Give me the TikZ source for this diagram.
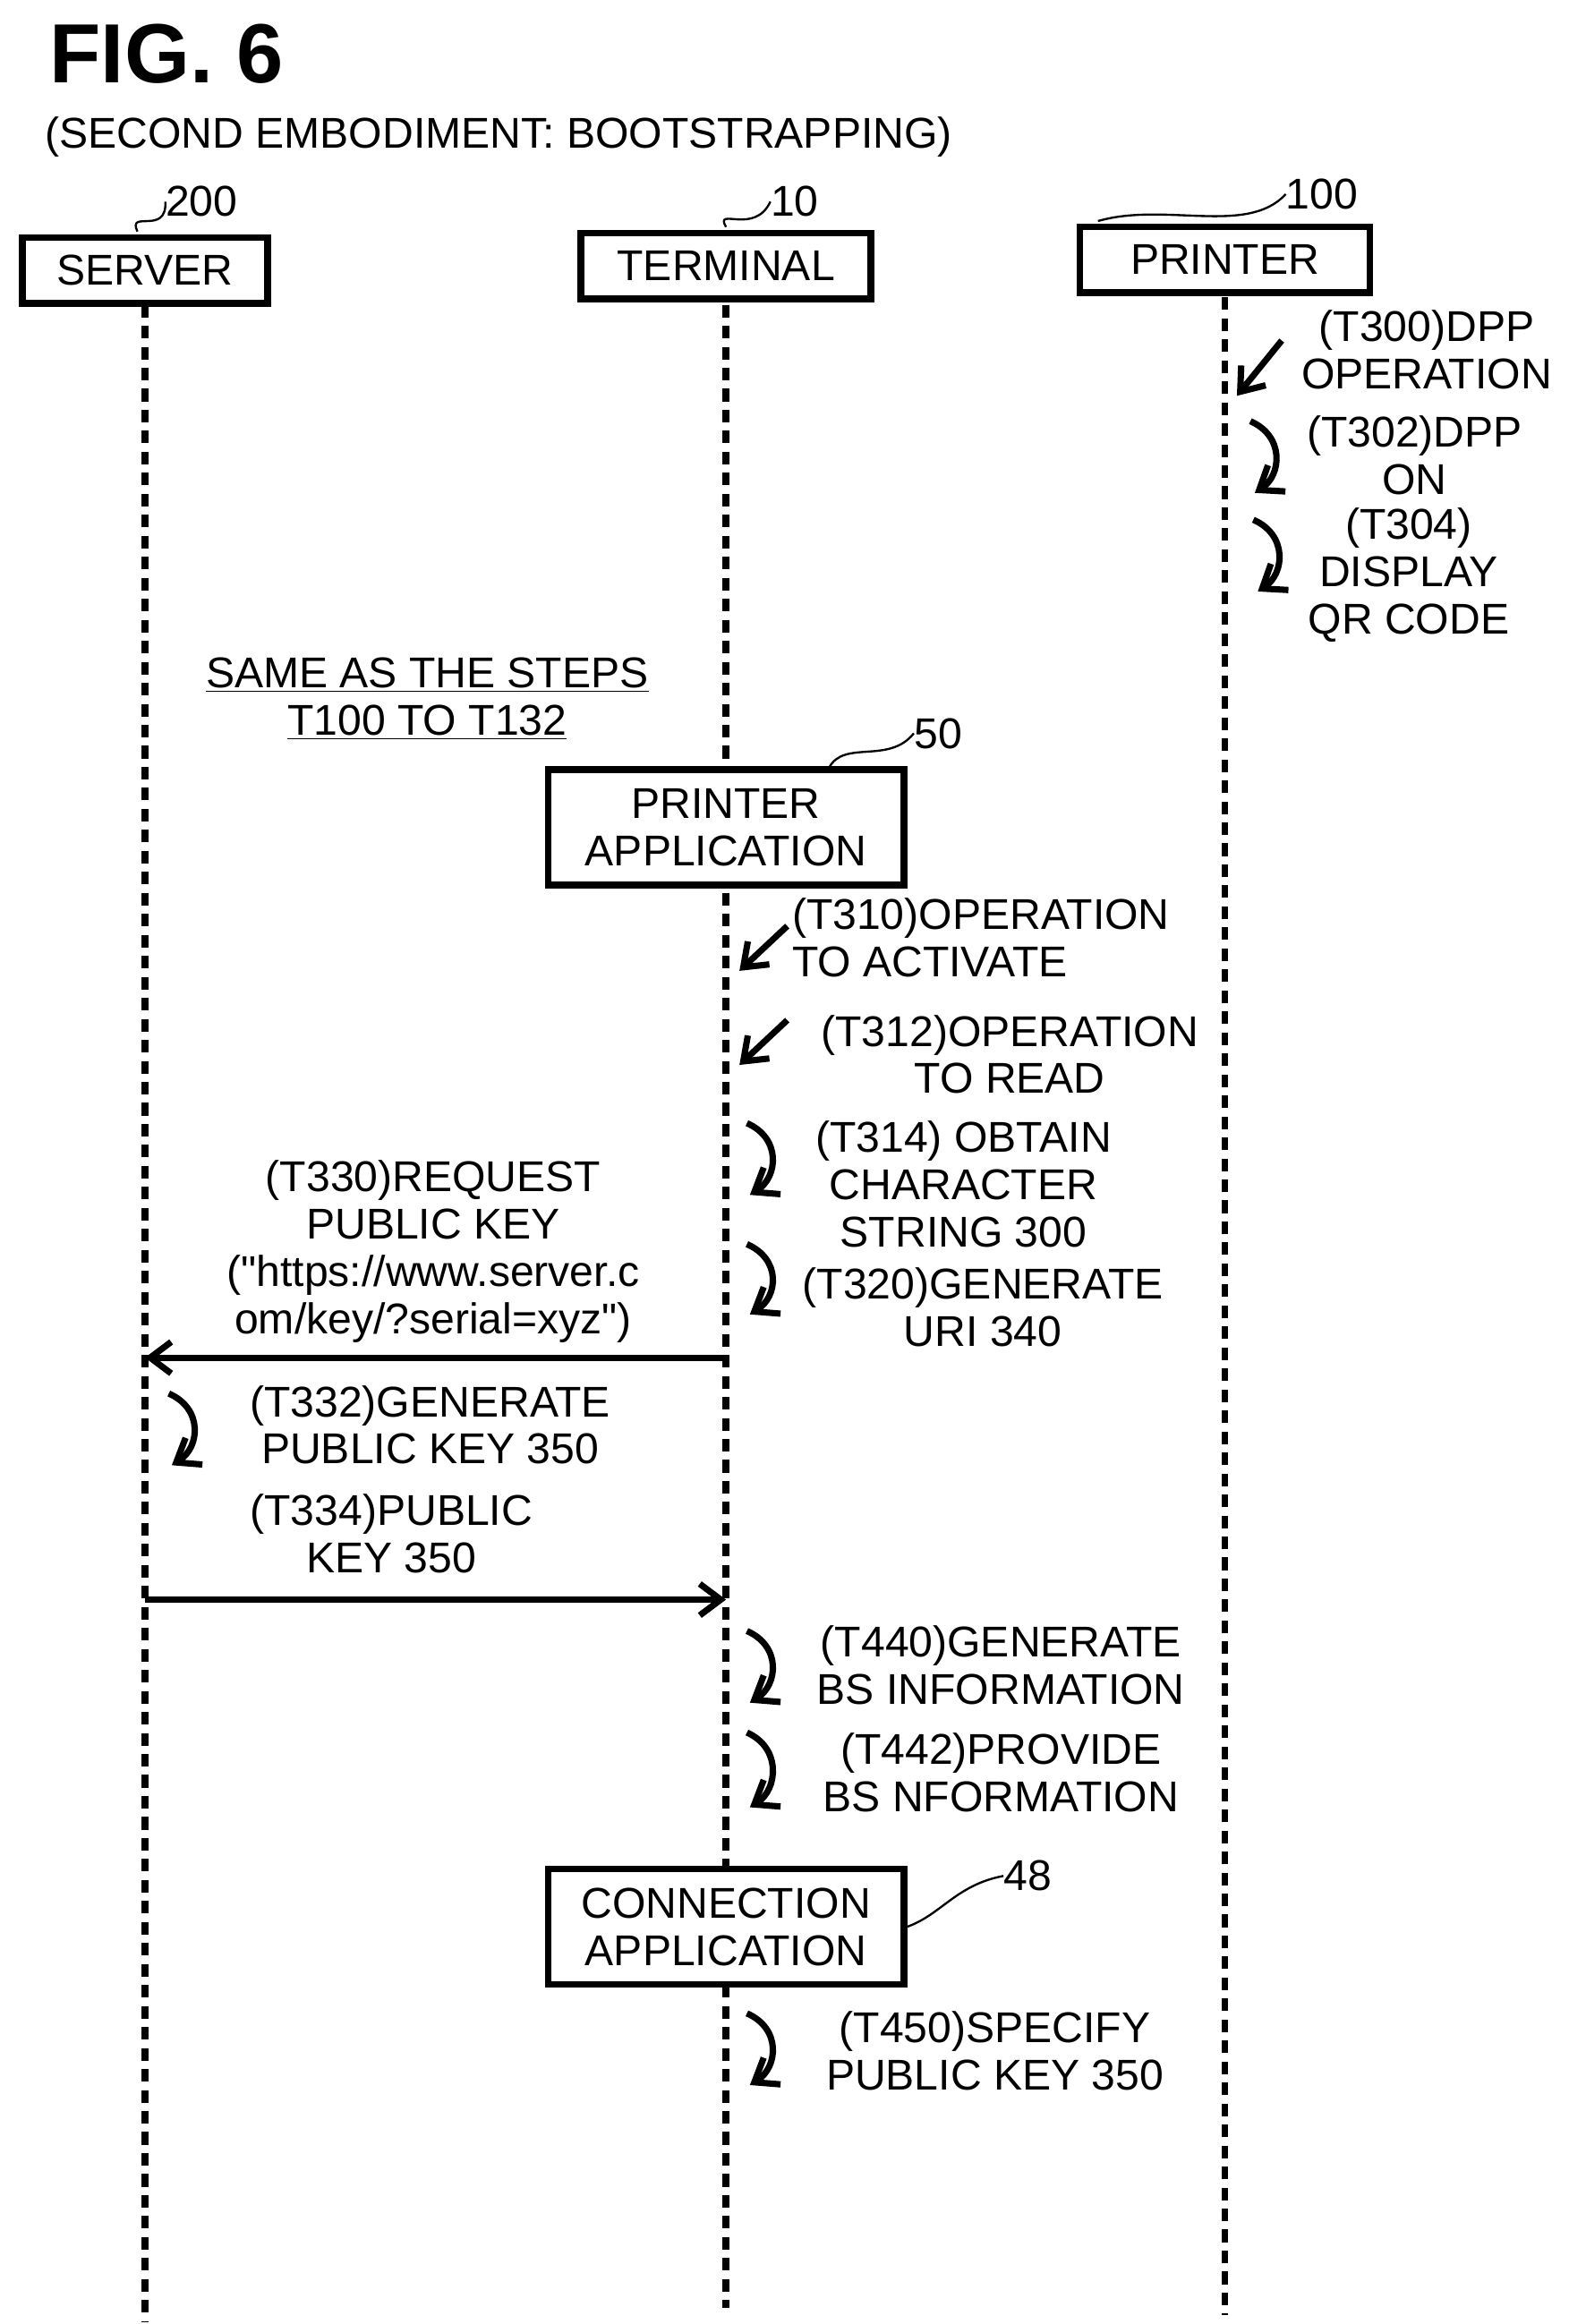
\documentclass[tikz,border=0pt]{standalone}
\usepackage{fontspec}
\setmainfont{Liberation Sans}
\usetikzlibrary{arrows.meta}
\tikzset{
  box/.style={draw, fill=white, line width=3.2pt, minimum height=1.1cm, inner sep=2pt, align=center, font=\fontsize{20.5}{22.5}\selectfont},
  life/.style={line width=3.2pt, dash pattern=on 6pt off 4pt},
  lbl/.style={align=center, font=\fontsize{20.5}{22.5}\selectfont, inner sep=0pt},
  msg/.style={line width=3pt, -{Straight Barb[length=10pt,width=15pt,line width=3pt]}},
  lead/.style={line width=1pt},
}
\begin{document}
\begin{tikzpicture}[x=0.025cm,y=-0.025cm]
  \useasboundingbox (0,0) rectangle (1050,1556);
  % title
  \node[anchor=west, inner sep=0pt, font=\fontsize{40}{44}\bfseries] (fig) at (33,36) {FIG. 6};
  \node[anchor=west, lbl] (sub) at (30,92) {(SECOND EMBODIMENT: BOOTSTRAPPING)};
  % lifelines
  \coordinate (sTop) at (97,190); \coordinate (sEnd) at (97,1555);
  \coordinate (tTop) at (486,190); \coordinate (tEnd) at (486,1545);
  \coordinate (pTop) at (820,185); \coordinate (pEnd) at (820,1550);
  \draw[life] (sTop) -- (sEnd);
  \draw[life] (tTop) -- (tEnd);
  \draw[life] (pTop) -- (pEnd);
  % participants
  \node[box, minimum width=4.1cm] (server) at (97,181) {SERVER};
  \node[box, minimum width=4.85cm] (term) at (486,178) {TERMINAL};
  \node[box, minimum width=4.85cm] (prn) at (820,174) {PRINTER};
  \node[lbl] (n200) at (135,135) {200};
  \node[lbl] (n10) at (532,135) {10};
  \node[lbl] (n100) at (885,130) {100};
  \draw[lead] (92,155) .. controls (85,140) and (112,158) .. (n200.west);
  \draw[lead] (486,152) .. controls (478,138) and (505,158) .. (n10.west);
  \draw[lead] (735,148) .. controls (780,135) and (835,158) .. (n100.west);
  % printer steps
  \node[lbl] (t300) at (955,234) {(T300)DPP\\OPERATION};
  \node[lbl] (t302) at (947,305) {(T302)DPP\\ON};
  \node[lbl] (t304) at (943,385) {(T304)\\DISPLAY\\QR CODE};
  \coordinate (a300s) at (858,228); \coordinate (a300e) at (828,265);
  \draw[msg] (a300s) -- (a300e);
  \coordinate (a302s) at (837,282); \coordinate (a302e) at (840,330);
  \draw[msg] (a302s) .. controls (860,292) and (858,318) .. (a302e);
  \coordinate (a304s) at (839,348); \coordinate (a304e) at (842,396);
  \draw[msg] (a304s) .. controls (862,358) and (860,384) .. (a304e);
  % same as
  \node[lbl] (same) at (286,468) {\underline{SAME AS THE STEPS}\\\underline{T100 TO T132}};
  % printer application
  \node[box, minimum width=5.95cm, minimum height=1.93cm] (papp) at (486,554) {PRINTER\\APPLICATION};
  \node[lbl] (n50) at (628,491) {50};
  \draw[lead] (555,514) .. controls (565,495) and (595,512) .. (n50.west);
  \node[lbl, anchor=west, align=left] (t310) at (530,628) {(T310)OPERATION\\TO ACTIVATE};
  \coordinate (a310s) at (527,620); \coordinate (a310e) at (495,650);
  \draw[msg] (a310s) -- (a310e);
  \node[lbl] (t312) at (676,706) {(T312)OPERATION\\TO READ};
  \coordinate (a312s) at (527,683); \coordinate (a312e) at (495,713);
  \draw[msg] (a312s) -- (a312e);
  \node[lbl] (t314) at (645,793) {(T314) OBTAIN\\CHARACTER\\STRING 300};
  \coordinate (a314s) at (500,752); \coordinate (a314e) at (502,800);
  \draw[msg] (a314s) .. controls (523,762) and (521,788) .. (a314e);
  \node[lbl] (t320) at (658,875) {(T320)GENERATE\\URI 340};
  \coordinate (a320s) at (500,833); \coordinate (a320e) at (502,880);
  \draw[msg] (a320s) .. controls (523,843) and (521,868) .. (a320e);
  % request
  \node[lbl] (t330) at (290,838) {(T330)REQUEST\\PUBLIC KEY\\(\textquotedbl https://www.server.c\\om/key/?serial=xyz\textquotedbl)};
  \coordinate (tReq) at (486,909); \coordinate (sReq) at (97,909);
  \draw[msg] (tReq) -- (sReq);
  \node[lbl] (t332) at (288,954) {(T332)GENERATE\\PUBLIC KEY 350};
  \coordinate (a332s) at (113,933); \coordinate (a332e) at (115,981);
  \draw[msg] (a332s) .. controls (136,943) and (134,969) .. (a332e);
  \node[lbl] (t334) at (262,1027) {(T334)PUBLIC\\KEY 350};
  \coordinate (sKey) at (97,1071); \coordinate (tKey) at (486,1071);
  \draw[msg] (sKey) -- (tKey);
  % bs information
  \node[lbl] (t440) at (670,1115) {(T440)GENERATE\\BS INFORMATION};
  \coordinate (a440s) at (500,1092); \coordinate (a440e) at (502,1140);
  \draw[msg] (a440s) .. controls (523,1102) and (521,1128) .. (a440e);
  \node[lbl] (t442) at (670,1187) {(T442)PROVIDE\\BS NFORMATION};
  \coordinate (a442s) at (500,1160); \coordinate (a442e) at (502,1210);
  \draw[msg] (a442s) .. controls (523,1170) and (521,1198) .. (a442e);
  % connection application
  \node[box, minimum width=5.95cm, minimum height=1.93cm] (capp) at (486,1290) {CONNECTION\\APPLICATION};
  \node[lbl] (n48) at (688,1256) {48};
  \draw[lead] (capp.east) .. controls (630,1282) and (640,1262) .. (n48.west);
  \node[lbl] (t450) at (666,1373) {(T450)SPECIFY\\PUBLIC KEY 350};
  \coordinate (a450s) at (500,1348); \coordinate (a450e) at (502,1396);
  \draw[msg] (a450s) .. controls (523,1358) and (521,1384) .. (a450e);
\end{tikzpicture}
\end{document}
